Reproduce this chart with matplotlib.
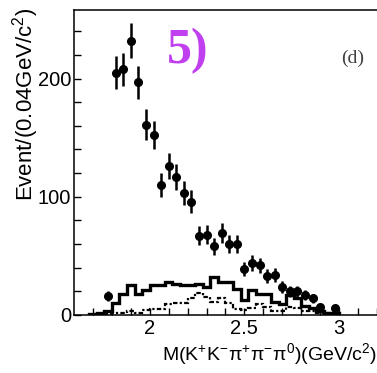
import numpy as np
import matplotlib

matplotlib.use("Agg")
import matplotlib.pyplot as plt

# data points (bin centres, GeV/c^2) and counts
mass = [1.78, 1.82, 1.86, 1.90, 1.94, 1.98, 2.02, 2.06, 2.10, 2.14, 2.18, 2.22,
        2.26, 2.30, 2.34, 2.38, 2.42, 2.46, 2.50, 2.54, 2.58, 2.62, 2.66, 2.70,
        2.74, 2.78, 2.82, 2.86, 2.90, 2.98]
events = [16, 205, 208, 232, 197, 161, 152, 110, 126, 117, 103, 96,
          67, 68, 58, 69, 60, 60, 39, 44, 42, 33, 34, 24,
          20, 20, 17, 14, 7, 6]
err = [4, 14, 14, 15, 14, 13, 12, 10.5, 11, 11, 10, 10,
       8, 8, 7.5, 8.5, 7.5, 7.5, 6, 6.5, 6.5, 6, 6, 5,
       4.5, 4.5, 4, 4, 2.6, 2.4]

# histogram bin edges and contents
edges = [1.68 + 0.04 * i for i in range(34)]
solid = [0.5, 1.5, 3, 10, 18, 25, 18, 21, 25, 25, 27.5, 26, 25, 25.5, 26, 23.5,
         32, 28, 28, 22, 13, 21, 18, 18, 11, 9, 17, 14, 8, 6, 3.5, 2, 2]
dashed = [0, 0.5, 1, 1.5, 2, 3, 2, 4, 5, 5, 9, 10, 10, 14, 19, 15,
          11, 14, 10, 5, 4, 6, 9, 7, 3, 3, 7, 6, 3, 3, 2, 1.5, 1.5]

plt.rcParams["font.family"] = ["Liberation Sans", "DejaVu Sans"]
plt.rcParams["mathtext.fontset"] = "custom"
plt.rcParams["mathtext.rm"] = "Liberation Sans"

fig = plt.figure(figsize=(3.77, 3.73), dpi=100)
ax = fig.add_axes([74 / 377, 1 - 315 / 373, 1 - 74 / 377, 305 / 373])

ax.stairs(solid, edges, color="black", lw=2.4)
ax.stairs(dashed, edges, color="black", lw=1.6, linestyle=(0, (2, 1, 1, 1)))
ax.errorbar(mass, events, yerr=err, fmt="o", color="black", ms=5.5, elinewidth=1.8, capsize=0)

ax.set_xlim(1.6, 3.184)
ax.set_ylim(0, 258)
ax.set_xticks([2, 2.5, 3])
ax.set_xticklabels(["2", "2.5", "3"])
ax.set_xticks(np.arange(1.7, 3.2, 0.1), minor=True)
ax.set_yticks([0, 100, 200])
ax.set_yticks(np.arange(0, 260, 20), minor=True)
ax.tick_params(which="both", direction="in", length=5, width=1, labelsize=14.5)
ax.tick_params(axis="y", pad=2)
ax.tick_params(axis="x", pad=3)
ax.spines["right"].set_visible(False)
for s in ("left", "bottom", "top"):
    ax.spines[s].set_linewidth(1.1)

fig.text(377 / 377, 1 - 355 / 373, "M(K$^{+}$K$^{-}$π$^{+}$π$^{-}$π$^{0}$)(GeV/c$^{2}$)",
         ha="right", va="center", fontsize=14)
fig.text(26 / 377, 1 - 8 / 373, "Event/(0.04GeV/c$^{2}$)", rotation=90,
         ha="center", va="top", fontsize=16)

ax.text(2.20, 223, "5)", color="#c040f0", fontsize=36, fontweight="bold",
        family="Liberation Serif", ha="center", va="center")
ax.text(3.07, 217, "(d)", color="#404040", fontsize=14, family="Liberation Serif",
        ha="center", va="center")

fig.savefig("out.png", dpi=100)
